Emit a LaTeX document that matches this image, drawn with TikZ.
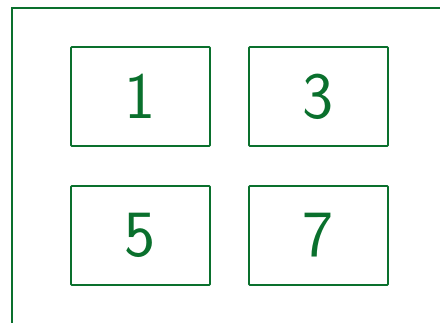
\documentclass[tikz,border=0pt]{standalone}
\usepackage{xcolor}
\usepackage{tikz}
\definecolor{framegreen}{RGB}{10,112,45}

\begin{document}
\begin{tikzpicture}[font=\sffamily,
  numbox/.style={draw=framegreen, line width=1.2pt, rounded corners=0.6pt,
    minimum width=3.475cm, minimum height=2.475cm, inner sep=0pt,
    text=framegreen, font=\sffamily\fontsize{47}{50}\selectfont}]
  \useasboundingbox (0,0) rectangle (11,8.05);
  \path[draw=framegreen, line width=1.4pt] (0.29,-1) rectangle (12,7.86);
  \node[numbox] (box1) at (3.5125,5.6375) {1};
  \node[numbox] (box3) at (7.9625,5.6375) {3};
  \node[numbox] (box5) at (3.5125,2.1625) {5};
  \node[numbox] (box7) at (7.9625,2.1625) {7};
\end{tikzpicture}
\end{document}
